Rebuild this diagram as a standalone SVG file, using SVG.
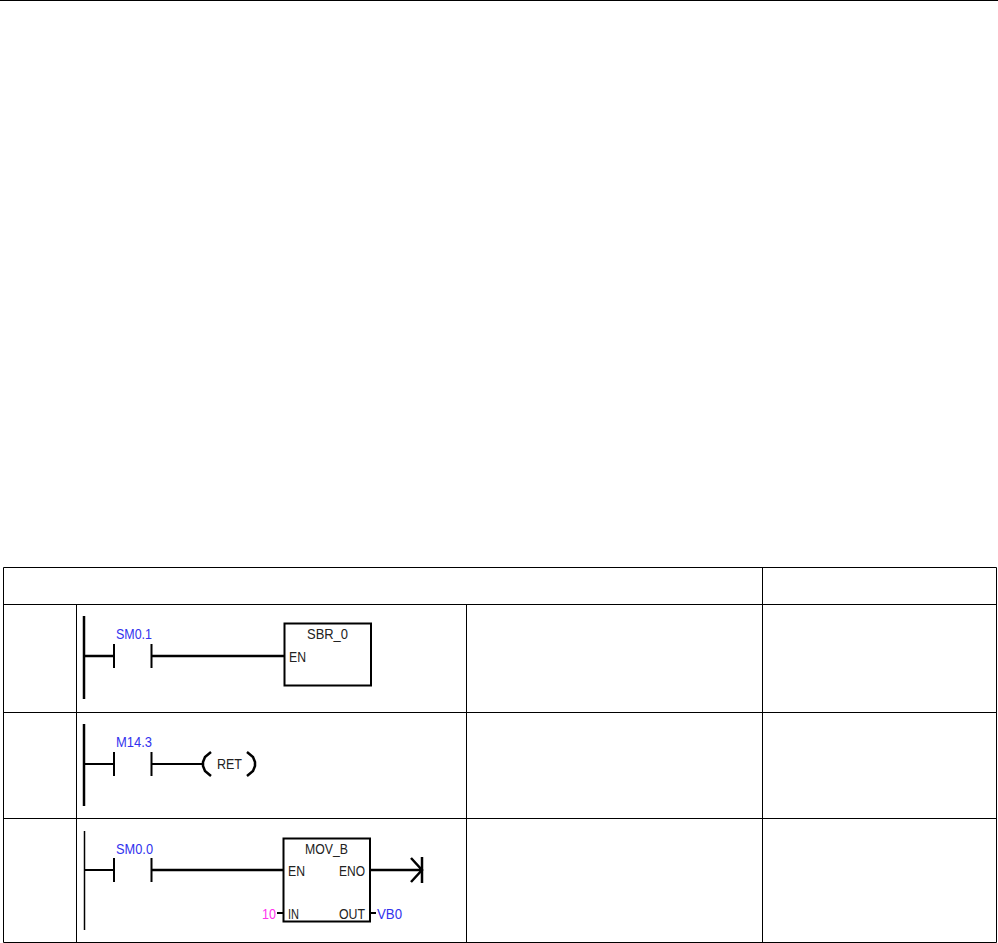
<svg xmlns="http://www.w3.org/2000/svg" width="998" height="943" viewBox="0 0 998 943">
<style>
.t{stroke:#000;stroke-width:1;fill:none}
.w{stroke:#000;stroke-width:2;fill:none}
.c{stroke:#000;stroke-width:2.500;fill:none}
.h{stroke:#000;stroke-width:1.500;fill:none}
.b{stroke:#000;stroke-width:2;fill:#fff}
text{font-family:"Liberation Sans",Arial,sans-serif;font-size:14px;fill:#222}
.a{fill:#3333ee}
</style>
<rect width="998" height="943" fill="#fff"/>
<g id="table">
<path class="t" d="M0 0.500H998M3.500 567.500H996.500M3.500 604.500H996.500M3.500 712.500H996.500M3.500 818.500H996.500M3.500 942.500H996.500M3.500 567.500V942.500M996.500 567.500V942.500M76.500 604.500V942.500M466.500 604.500V942.500M762.500 567.500V942.500"/>
</g>
<g id="connectors">
<path class="c" d="M84 616V699M85 656H114M152 656H284"/>
<path class="c" d="M84 724V806"/><path class="w" d="M85 764H114M152 764H202"/>
<path class="h" d="M84.500 831V930"/><path class="w" d="M85 870H114"/><path class="c" d="M152 870H283M370 870H422M411 858L422 870L411 882"/><path class="c" d="M422 857V883"/><path class="w" d="M277 913H283M370 913H376"/>
</g>
<g id="sm01">
<path class="w" d="M114 644V668M151.500 644V668"/>
<text class="a" x="116" y="639" textLength="36" lengthAdjust="spacingAndGlyphs">SM0.1</text>
</g>
<g id="sbr0">
<rect class="b" x="284.500" y="623.500" width="86.500" height="62"/>
<text x="307" y="639" textLength="41" lengthAdjust="spacingAndGlyphs">SBR_0</text>
<text x="289" y="662" textLength="17" lengthAdjust="spacingAndGlyphs">EN</text>
</g>
<g id="m143">
<path class="w" d="M114 752V776M151.500 752V776"/>
<text class="a" x="116" y="747" textLength="36" lengthAdjust="spacingAndGlyphs">M14.3</text>
</g>
<g id="ret">
<path class="c" d="M211 752L205 757L203 762V766L205 771L211 776M247 752L253 757L255 762V766L253 771L247 776"/>
<text x="217" y="769" textLength="25" lengthAdjust="spacingAndGlyphs">RET</text>
</g>
<g id="sm00">
<path class="w" d="M114 858V882M151.500 858V882"/>
<text class="a" x="116" y="854" textLength="37" lengthAdjust="spacingAndGlyphs">SM0.0</text>
</g>
<g id="movb">
<rect class="b" x="283.500" y="838.500" width="86.500" height="83"/>
<text x="305" y="854" textLength="43" lengthAdjust="spacingAndGlyphs">MOV_B</text>
<text x="288" y="876" textLength="17" lengthAdjust="spacingAndGlyphs">EN</text>
<text x="339" y="876" textLength="26" lengthAdjust="spacingAndGlyphs">ENO</text>
<text x="288" y="919" textLength="11" lengthAdjust="spacingAndGlyphs">IN</text>
<text x="339" y="919" textLength="26" lengthAdjust="spacingAndGlyphs">OUT</text>
<text x="262" y="919" textLength="14" lengthAdjust="spacingAndGlyphs" style="fill:#ff33ee">10</text>
<text class="a" x="377" y="919" textLength="25" lengthAdjust="spacingAndGlyphs">VB0</text>
</g>
</svg>
